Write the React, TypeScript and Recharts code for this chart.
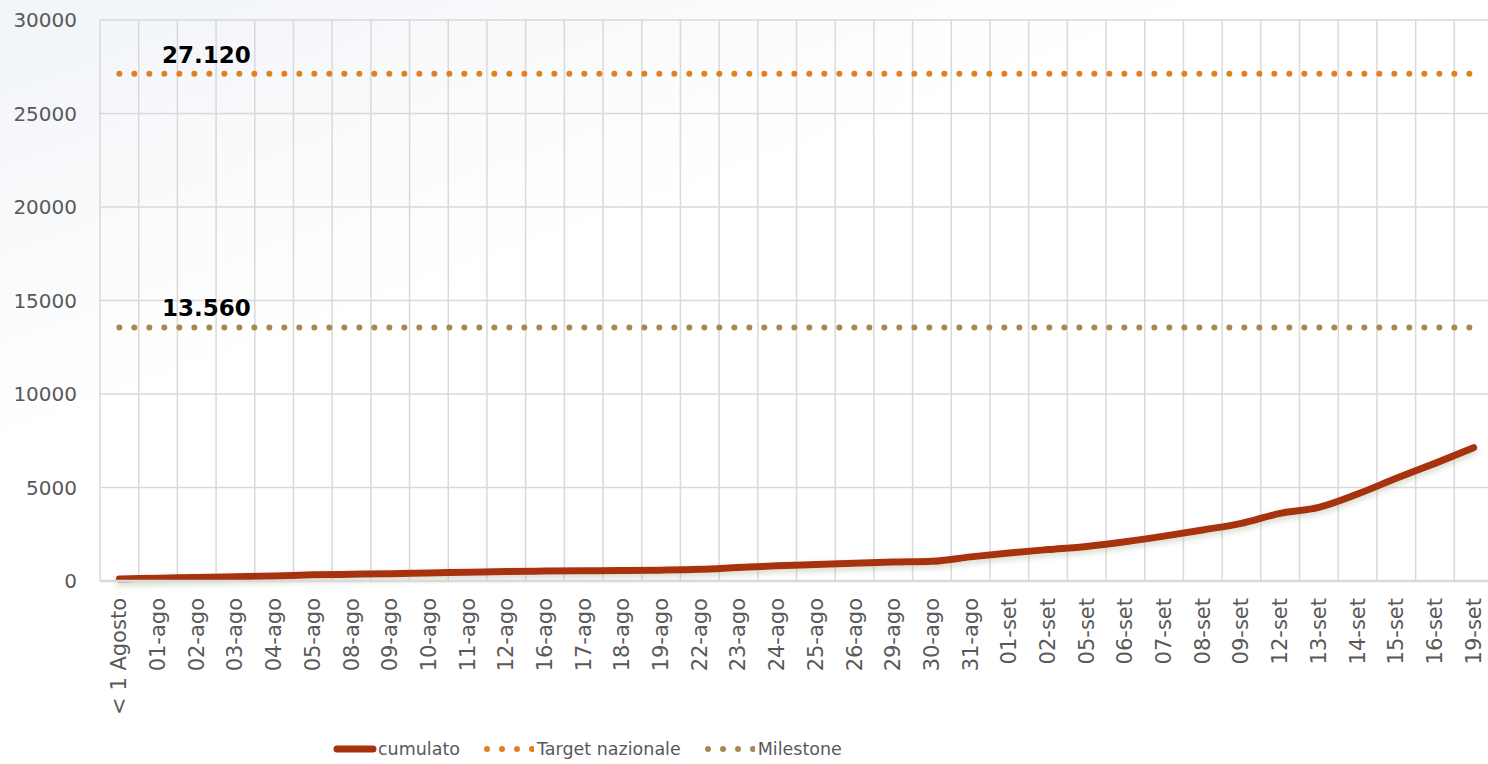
import React from 'react';
import { LineChart, Line, XAxis, YAxis, CartesianGrid } from 'recharts';

const CATEGORIES = [
  '< 1 Agosto', '01-ago', '02-ago', '03-ago', '04-ago', '05-ago', '08-ago', '09-ago',
  '10-ago', '11-ago', '12-ago', '16-ago', '17-ago', '18-ago', '19-ago', '22-ago',
  '23-ago', '24-ago', '25-ago', '26-ago', '29-ago', '30-ago', '31-ago', '01-set',
  '02-set', '05-set', '06-set', '07-set', '08-set', '09-set', '12-set', '13-set',
  '14-set', '15-set', '16-set', '19-set'
];
const CUMULATO = [
  110, 150, 190, 230, 270, 330, 360, 390, 430, 470, 510, 530, 545, 555, 580, 625,
  720, 810, 880, 950, 1010, 1050, 1290, 1500, 1680, 1850, 2100, 2400, 2730, 3080,
  3620, 3940, 4650, 5490, 6290, 7130
];
const TARGET_NAZIONALE = 27120;
const MILESTONE = 13560;
const Y_TICKS = [0, 5000, 10000, 15000, 20000, 25000, 30000];

const data = CATEGORIES.map((name, i) => ({
  name,
  cumulato: CUMULATO[i],
  target: TARGET_NAZIONALE,
  milestone: MILESTONE
}));

const FONT = "'DejaVu Sans', sans-serif";
const TEXT = '#595959';
const RED = '#A8300F';
const ORANGE = '#E2801F';
const KHAKI = '#A68952';
const GRID = '#D9D9D9';

const fmt = (v: number) => String(v).replace(/\B(?=(\d{3})+(?!\d))/g, '.');

const XTick = (props: any) => {
  const { x, y, payload } = props;
  return (
    <text
      x={x}
      y={y}
      transform={`rotate(-90, ${x}, ${y})`}
      textAnchor="end"
      dominantBaseline="central"
      fill={TEXT}
      fontSize={21}
      fontFamily={FONT}
    >
      {payload.value}
    </text>
  );
};

// value label drawn once, above the second point of the line
const valueLabel = (props: any) => {
  const { x, y, index, value } = props;
  if (index !== 1) return null;
  return (
    <text x={x + 4} y={y - 11} fontSize={23} fontWeight="bold" fontFamily={FONT} fill="#000">
      {fmt(value)}
    </text>
  );
};

const Dots = ({ color }: { color: string }) => (
  <svg width={50} height={10} style={{ marginRight: 3 }}>
    {[0, 1, 2, 3].map((i) => (
      <circle key={i} cx={3 + i * 15} cy={5} r={3} fill={color} />
    ))}
  </svg>
);

const legendText: React.CSSProperties = {
  fontFamily: FONT,
  fontSize: 17.5,
  color: TEXT
};

export default function App() {
  return (
    <div
      style={{
        position: 'fixed',
        left: 0,
        top: 0,
        width: 1488,
        height: 764,
        overflow: 'hidden',
        background: 'linear-gradient(160deg, #F1F4F8 0%, #FFFFFF 35%)'
      }}
    >
      <LineChart
        width={1500}
        height={764}
        data={data}
        margin={{ top: 20, right: 7, left: 0, bottom: 0 }}
      >
        <defs>
          <filter id="lineShadow" x="-5%" y="-50%" width="110%" height="200%">
            <feDropShadow dx={0} dy={3} stdDeviation={3} floodColor="#9DAA86" floodOpacity={0.45} />
          </filter>
        </defs>
        <CartesianGrid
          stroke={GRID}
          strokeWidth={1.5}
          verticalCoordinatesGenerator={({ offset }: any) =>
            Array.from({ length: CATEGORIES.length + 1 }, (_, i) => offset.left + (i * offset.width) / CATEGORIES.length)
          }
        />
        <XAxis
          dataKey="name"
          scale="band"
          interval={0}
          height={183}
          tickLine={false}
          tickSize={6}
          tickMargin={11}
          axisLine={{ stroke: GRID, strokeWidth: 2.5 }}
          tick={<XTick />}
        />
        <YAxis
          width={100}
          domain={[0, 30000]}
          ticks={Y_TICKS}
          axisLine={false}
          tickLine={false}
          tickSize={6}
          tickMargin={17}
          tick={{ fill: TEXT, fontSize: 20, fontFamily: FONT }}
        />
        <Line
          dataKey="target"
          name="Target nazionale"
          stroke={ORANGE}
          strokeWidth={6}
          strokeDasharray="0 15"
          strokeLinecap="round"
          dot={false}
          label={valueLabel}
          isAnimationActive={false}
        />
        <Line
          dataKey="milestone"
          name="Milestone"
          stroke={KHAKI}
          strokeWidth={6}
          strokeDasharray="0 15"
          strokeLinecap="round"
          dot={false}
          label={valueLabel}
          isAnimationActive={false}
        />
        <Line
          type="monotone"
          dataKey="cumulato"
          name="cumulato"
          stroke={RED}
          strokeWidth={7}
          strokeLinecap="round"
          dot={false}
          filter="url(#lineShadow)"
          isAnimationActive={false}
        />
      </LineChart>
      <div
        style={{
          position: 'absolute',
          left: 333,
          top: 739,
          display: 'flex',
          alignItems: 'center',
          whiteSpace: 'nowrap'
        }}
      >
        <svg width={44} height={10} style={{ marginRight: 1 }}>
          <line x1={4} y1={5} x2={40} y2={5} stroke={RED} strokeWidth={7} strokeLinecap="round" />
        </svg>
        <span style={{ ...legendText, marginRight: 24 }}>cumulato</span>
        <Dots color={ORANGE} />
        <span style={{ ...legendText, marginRight: 24 }}>Target nazionale</span>
        <Dots color={KHAKI} />
        <span style={legendText}>Milestone</span>
      </div>
    </div>
  );
}
